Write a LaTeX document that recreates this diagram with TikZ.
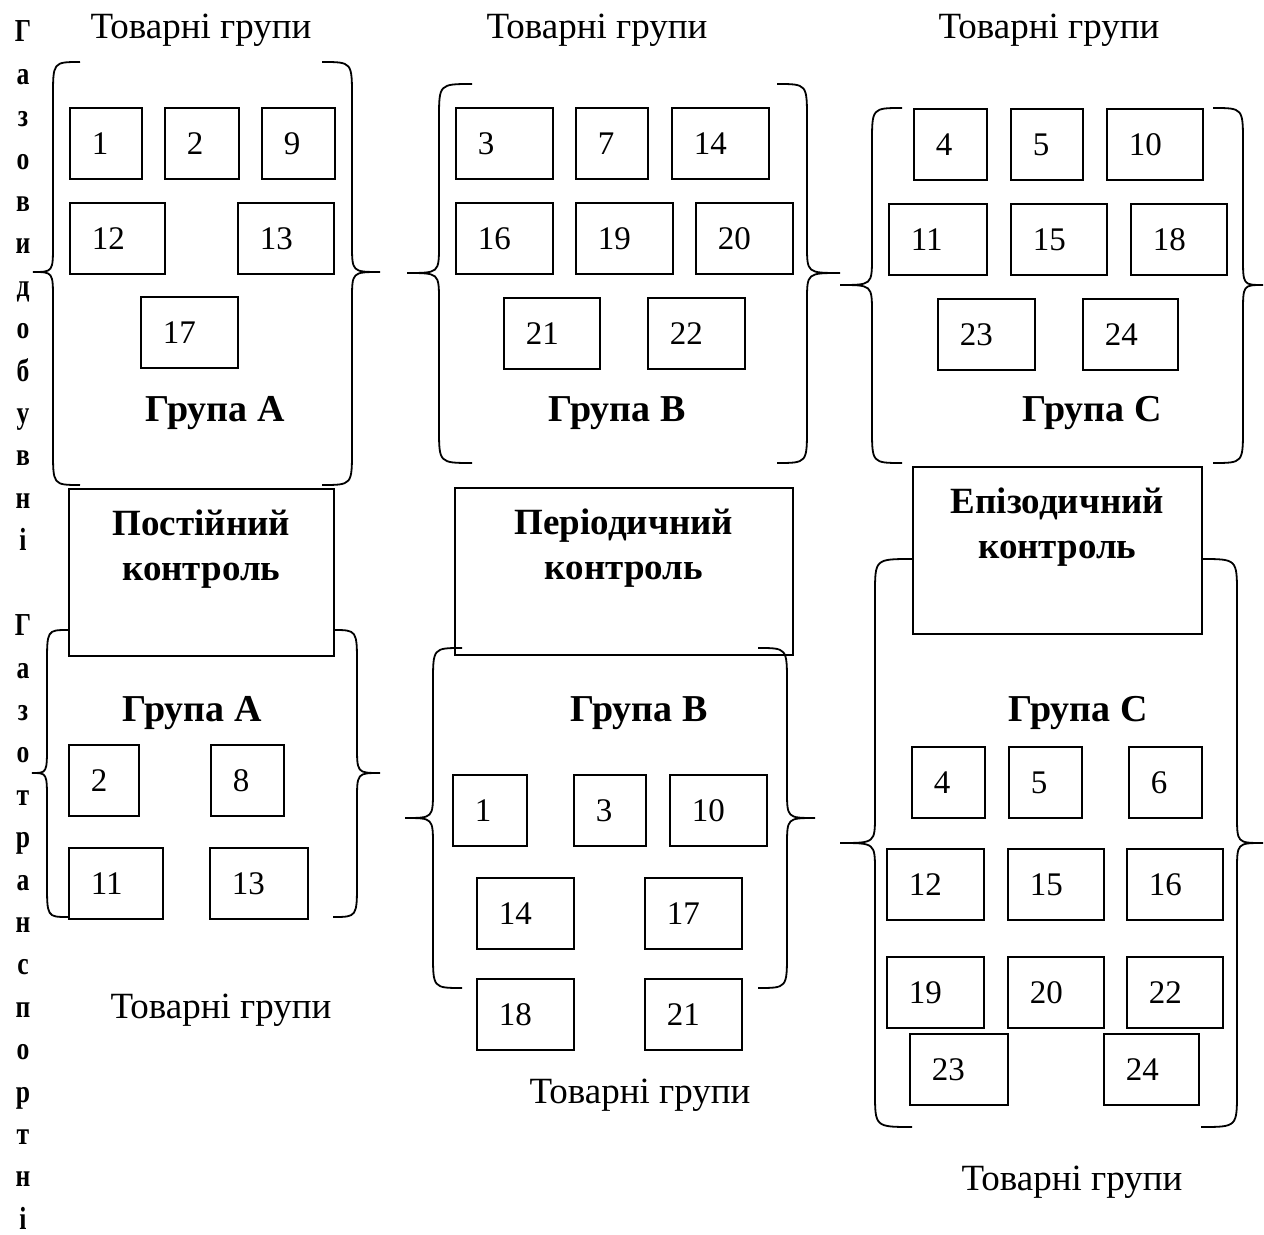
\documentclass[tikz,border=0pt]{standalone}
\usepackage{fontspec}
\setmainfont{Liberation Serif}
\usepackage{tikz}
\usetikzlibrary{
	calc,
	positioning
}
\newcommand\TikzBrace[6]{
	% #1: x of the two ends
	% #2: x of the straight parts
	% #3: x of the tip
	% #4, #5, #6: y of top, tip and bottom
	(#1,#4) .. controls (#2,#4) .. (#2,#4+35)
	-- (#2,#5-28) .. controls (#2,#5) .. (#3,#5)
	.. controls (#2,#5) .. (#2,#5+28)
	-- (#2,#6-35) .. controls (#2,#6) .. (#1,#6)
}
\tikzstyle{every picture}+=[line width=0.9pt]

\begin{document}
\begin{tikzpicture}[x=0.5pt, y=-0.5pt,
		tg/.style={draw, anchor=north west, minimum height=35.5pt, inner xsep=11pt, inner ysep=0pt, align=left, font=\fontsize{16.5}{18}\selectfont},
		ctrl/.style={draw, anchor=north west, inner sep=0pt, align=center, text height=23.5pt, text depth=60pt, font=\fontsize{18.5}{22.5}\selectfont\bfseries},
		grp/.style={font=\fontsize{19}{22}\selectfont\bfseries},
		goods/.style={font=\fontsize{18.5}{22}\selectfont},
		vlet/.style={anchor=base, inner sep=0pt, font=\fontsize{16}{16}\selectfont\bfseries}
	]
	\useasboundingbox (0,0) rectangle (1264,1235);

	% vertical words on the left
	\foreach \ch [count=\k from 0] in {Г,а,з,о,в,и,д,о,б,у,в,н,і}
		\node[vlet] (gd\k) at (23,42+\k*42.4) {\scalebox{0.8}[1]{\ch}};
	\foreach \ch [count=\k from 14] in {Г,а,з,о,т,р,а,н,с,п,о,р,т,н,і}
		\node[vlet] (gt\k) at (23,42+\k*42.4) {\scalebox{0.8}[1]{\ch}};

	\node[goods] (goodsA) at (201,30) {Товарні групи};
	\node[goods] (goodsB) at (597,30) {Товарні групи};
	\node[goods] (goodsC) at (1049,30) {Товарні групи};
	\node[goods] (goodsLA) at (221,1010) {Товарні групи};
	\node[goods] (goodsLB) at (640,1095) {Товарні групи};
	\node[goods] (goodsLC) at (1072,1182) {Товарні групи};

	\node[grp] (grpA) at (215,413) {Група А};
	\node[grp] (grpB) at (617,413) {Група В};
	\node[grp] (grpC) at (1092,413) {Група С};
	\node[grp] (grpLA) at (192,713) {Група А};
	\node[grp] (grpLB) at (639,713) {Група В};
	\node[grp] (grpLC) at (1078,713) {Група С};

	\node[ctrl, text width=132.5pt] (const) at (68,488) {Постійний\\контроль};
	\node[ctrl, text width=169pt] (period) at (454,487) {Періодичний\\контроль};
	\node[ctrl, text width=144.5pt] (episod) at (912,466) {Епізодичний\\контроль};

	% braces
	\foreach \xe/\xl/\xt/\ya/\ym/\yb in {
			80/53/33/62/272/485, 322/352/380/62/272/485,
			472/439/407/84/273/463, 777/807/840/84/273/463,
			902/872/840/108/285/463, 1213/1243/1263/108/285/463,
			68/47/32/630/773/917, 333/357/380/630/773/917,
			462/433/405/648/818/988, 758/787/815/648/818/988,
			912/875/840/559/843/1127, 1201/1237/1263/559/843/1127} {
		\draw \TikzBrace{\xe}{\xl}{\xt}{\ya}{\ym}{\yb};
	}

	% goods groups
	\foreach \n/\x/\y/\w in {1/69/107/72, 2/164/107/74, 9/261/107/73, 12/69/202/95, 13/237/202/96, 17/140/296/97}
		\node[tg, text width=\w*0.5pt-22pt] (ta\n) at (\x,\y) {\n};
	\foreach \n/\x/\y/\w in {3/455/107/97, 7/575/107/72, 14/671/107/97, 16/455/202/97, 19/575/202/97, 20/695/202/97, 21/503/297/96, 22/647/297/97}
		\node[tg, text width=\w*0.5pt-22pt] (tb\n) at (\x,\y) {\n};
	\foreach \n/\x/\y/\w in {4/913/108/73, 5/1010/108/72, 10/1106/108/96, 11/888/203/98, 15/1010/203/96, 18/1130/203/96, 23/937/298/97, 24/1082/298/95}
		\node[tg, text width=\w*0.5pt-22pt] (tc\n) at (\x,\y) {\n};
	\foreach \n/\x/\y/\w in {2/68/744/70, 8/210/744/73, 11/68/847/94, 13/209/847/98}
		\node[tg, text width=\w*0.5pt-22pt] (la\n) at (\x,\y) {\n};
	\foreach \n/\x/\y/\w in {1/452/774/74, 3/573/774/72, 10/669/774/97, 14/476/877/97, 17/644/877/97, 18/476/978/97, 21/644/978/97}
		\node[tg, text width=\w*0.5pt-22pt] (lb\n) at (\x,\y) {\n};
	\foreach \n/\x/\y/\w in {4/911/746/73, 5/1008/746/73, 6/1128/746/73, 12/886/848/97, 15/1007/848/96, 16/1126/848/96, 19/886/956/97, 20/1007/956/96, 22/1126/956/96, 23/909/1033/98, 24/1103/1033/95}
		\node[tg, text width=\w*0.5pt-22pt] (lc\n) at (\x,\y) {\n};

\end{tikzpicture}
\end{document}
